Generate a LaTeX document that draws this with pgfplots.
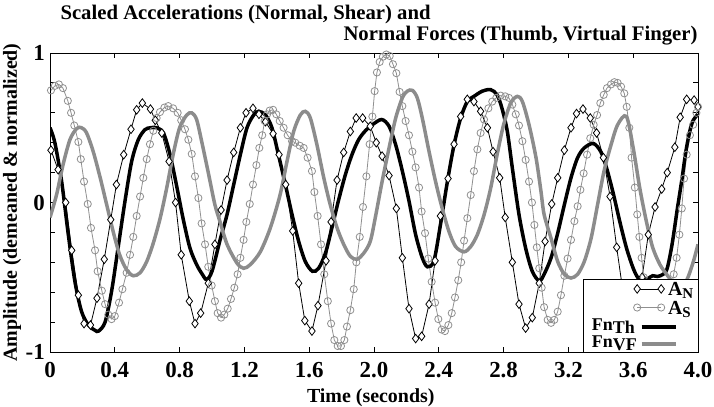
\documentclass[border=0pt]{standalone}
\usepackage{pgfplots}
\pgfplotsset{compat=1.18}
\usepackage{fontspec}
\setmainfont{Liberation Serif}
\definecolor{gA}{gray}{0.56}
\definecolor{gF}{gray}{0.55}
\pgfplotsset{
  geom/.style={at={(0,0)}, anchor=south west, scale only axis, width=648bp, height=299bp,
    xmin=0, xmax=4, ymin=-1, ymax=1},
  twomark legend/.style={legend image code/.code={\draw[##1] plot coordinates {(0bp,3bp) (24bp,3bp)};}},
  longline legend/.style={legend image code/.code={\draw[##1] (0bp,0bp) -- (34bp,0bp);}},
}
\begin{document}
\begin{tikzpicture}
\begin{axis}[geom,
  axis line style={line width=0.8bp, black},
  xtick={0,0.4,0.8,1.2,1.6,2.0,2.4,2.8,3.2,3.6,4.0},
  xticklabels={0,0.4,0.8,1.2,1.6,2.0,2.4,2.8,3.2,3.6,4.0},
  ytick={-1,-0.8,-0.6,-0.4,-0.2,0,0.2,0.4,0.6,0.8,1},
  yticklabels={-1,,,,,0,,,,,1},
  tick align=inside, major tick length=5bp,
  tick style={line width=0.8bp, black},
  tick label style={font=\bfseries\fontsize{23}{23}\selectfont},
  xticklabel style={inner sep=0pt, anchor=north, yshift=-10bp},
  yticklabel style={inner sep=0pt, anchor=east, xshift=-5bp},
  xlabel={Time (seconds)},
  ylabel={Amplitude (demeaned \& normalized)},
  label style={font=\bfseries\fontsize{20}{20}\selectfont},
  xlabel style={at={(axis description cs:0.495,-0.154)}, anchor=center},
  ylabel style={at={(axis description cs:-0.0586,0.5)}, anchor=center, rotate=0},
]
% A_N
\addplot[black, line width=0.8bp, mark=diamond*, mark size=4.3bp, mark options={fill=white, line width=0.8bp}] coordinates {
(0.006,0.35)(0.05,0.22)(0.097,0.00)(0.134,-0.32)(0.175,-0.62)(0.21,-0.81)(0.25,-0.82)(0.29,-0.64)
(0.335,-0.38)(0.375,-0.115)(0.41,0.12)(0.455,0.32)(0.50,0.49)(0.535,0.62)(0.57,0.665)(0.62,0.625)
(0.65,0.55)(0.69,0.465)(0.735,0.275)(0.775,0.00)(0.81,-0.35)(0.86,-0.66)(0.895,-0.81)(0.93,-0.74)
(0.977,-0.54)(1.018,-0.28)(1.056,-0.05)(1.093,0.15)(1.134,0.335)(1.175,0.50)(1.21,0.60)(1.253,0.63)
(1.29,0.59)(1.33,0.54)(1.377,0.46)(1.414,0.32)(1.455,0.12)(1.498,-0.19)(1.535,-0.54)(1.573,-0.79)
(1.617,-0.86)(1.654,-0.69)(1.704,-0.39)(1.735,-0.13)(1.772,0.15)(1.813,0.335)(1.854,0.475)(1.89,0.565)
(1.93,0.565)(1.977,0.51)(2.014,0.40)(2.05,0.31)(2.093,0.18)(2.138,-0.04)(2.175,-0.37)(2.216,-0.71)
(2.257,-0.91)(2.294,-0.895)(2.34,-0.68)(2.377,-0.39)(2.41,-0.09)(2.457,0.16)(2.494,0.39)(2.535,0.575)
(2.576,0.69)(2.617,0.675)(2.658,0.61)(2.70,0.50)(2.735,0.34)(2.776,0.165)(2.81,-0.10)(2.854,-0.40)
(2.895,-0.68)(2.936,-0.84)(2.977,-0.77)(3.02,-0.54)(3.056,-0.26)(3.097,-0.01)(3.134,0.165)(3.175,0.35)
(3.216,0.50)(3.25,0.595)(3.29,0.625)(3.335,0.565)(3.374,0.465)(3.416,0.30)(3.457,0.04)(3.498,-0.30)
(3.54,-0.62)(3.58,-0.80)(3.62,-0.75)(3.655,-0.50)(3.693,-0.215)(3.735,-0.03)(3.776,0.09)(3.81,0.20)
(3.857,0.37)(3.89,0.57)(3.93,0.69)(3.976,0.685)(4.0,0.64)
};
% A_S
\addplot[gA, line width=0.8bp, mark=o, mark size=3.6bp, mark options={line width=0.8bp}] coordinates {
(0.006,0.75)(0.03,0.78)(0.055,0.79)(0.08,0.765)(0.11,0.68)(0.13,0.60)(0.15,0.515)(0.175,0.405)
(0.19,0.29)(0.21,0.14)(0.233,-0.01)(0.253,-0.17)(0.278,-0.32)(0.294,-0.46)(0.32,-0.59)(0.34,-0.68)
(0.36,-0.75)(0.38,-0.78)(0.40,-0.76)(0.426,-0.67)(0.447,-0.58)(0.473,-0.47)(0.494,-0.35)(0.514,-0.23)
(0.535,-0.09)(0.556,0.04)(0.576,0.165)(0.597,0.29)(0.617,0.39)(0.638,0.48)(0.658,0.565)(0.679,0.605)
(0.706,0.635)(0.73,0.645)(0.76,0.63)(0.788,0.60)(0.81,0.55)(0.833,0.49)(0.854,0.42)(0.875,0.325)
(0.895,0.175)(0.916,0.03)(0.936,-0.14)(0.957,-0.28)(0.977,-0.43)(0.998,-0.555)(1.018,-0.66)(1.035,-0.74)
(1.056,-0.77)(1.076,-0.75)(1.097,-0.71)(1.117,-0.645)(1.138,-0.57)(1.158,-0.48)(1.175,-0.37)(1.195,-0.25)
(1.212,-0.13)(1.233,-0.01)(1.253,0.12)(1.274,0.25)(1.292,0.365)(1.31,0.45)(1.325,0.545)(1.34,0.59)
(1.356,0.615)(1.377,0.62)(1.397,0.59)(1.418,0.545)(1.442,0.50)(1.467,0.45)(1.494,0.41)(1.514,0.40)
(1.541,0.38)(1.566,0.365)(1.59,0.30)(1.617,0.21)(1.632,0.07)(1.652,-0.09)(1.673,-0.28)(1.693,-0.48)
(1.715,-0.66)(1.735,-0.81)(1.755,-0.92)(1.776,-0.96)(1.796,-0.96)(1.817,-0.92)(1.833,-0.83)(1.854,-0.72)
(1.875,-0.58)(1.891,-0.40)(1.912,-0.23)(1.932,-0.03)(1.953,0.175)(1.973,0.39)(1.99,0.575)(2.004,0.745)
(2.018,0.87)(2.035,0.94)(2.055,0.975)(2.076,0.99)(2.097,0.98)(2.117,0.925)(2.138,0.865)(2.158,0.74)
(2.175,0.645)(2.195,0.545)(2.216,0.45)(2.237,0.34)(2.257,0.235)(2.278,0.10)(2.294,-0.06)(2.315,-0.205)
(2.335,-0.375)(2.356,-0.53)(2.377,-0.67)(2.397,-0.78)(2.418,-0.85)(2.438,-0.86)(2.459,-0.82)(2.48,-0.74)
(2.50,-0.635)(2.52,-0.52)(2.538,-0.40)(2.556,-0.255)(2.576,-0.105)(2.597,0.05)(2.617,0.21)(2.638,0.355)
(2.658,0.465)(2.679,0.555)(2.706,0.63)(2.73,0.675)(2.755,0.70)(2.782,0.715)(2.81,0.71)(2.833,0.70)
(2.854,0.655)(2.875,0.59)(2.895,0.515)(2.916,0.41)(2.936,0.285)(2.957,0.14)(2.975,0.0)(2.99,-0.15)
(3.005,-0.30)(3.02,-0.44)(3.035,-0.57)(3.05,-0.70)(3.072,-0.785)(3.093,-0.805)(3.113,-0.785)(3.134,-0.73)
(3.154,-0.62)(3.175,-0.49)(3.195,-0.375)(3.216,-0.25)(3.237,-0.125)(3.257,-0.025)(3.274,0.085)(3.294,0.195)
(3.315,0.32)(3.335,0.43)(3.356,0.52)(3.377,0.585)(3.397,0.665)(3.418,0.72)(3.438,0.765)(3.463,0.79)
(3.484,0.805)(3.504,0.80)(3.525,0.775)(3.545,0.73)(3.56,0.64)(3.576,0.50)(3.59,0.30)(3.61,0.10)
(3.625,-0.08)(3.638,-0.23)(3.652,-0.37)(3.665,-0.50)(3.68,-0.62)(3.70,-0.74)(3.72,-0.82)(3.745,-0.85)
(3.77,-0.83)(3.80,-0.75)(3.825,-0.62)(3.85,-0.48)(3.868,-0.37)(3.885,-0.215)(3.90,-0.04)(3.914,0.16)
(3.93,0.32)(3.95,0.45)(3.97,0.52)(3.99,0.60)(4.0,0.64)
};
% Fn_Th
\addplot[black, line width=3.5bp, smooth, tension=0.5] coordinates {
(0.0,0.50)(0.03,0.40)(0.072,0.14)(0.113,-0.215)(0.154,-0.53)(0.195,-0.73)(0.237,-0.82)(0.278,-0.855)
(0.30,-0.86)(0.34,-0.80)(0.38,-0.595)(0.42,-0.305)(0.463,0.01)(0.504,0.275)(0.545,0.42)(0.586,0.487)
(0.62,0.50)(0.658,0.50)(0.70,0.465)(0.74,0.325)(0.78,0.12)(0.823,-0.115)(0.864,-0.305)(0.905,-0.415)
(0.94,-0.48)(0.967,-0.515)(1.0,-0.46)(1.05,-0.25)(1.093,-0.08)(1.134,0.12)(1.175,0.32)(1.216,0.50)
(1.257,0.585)(1.288,0.61)(1.33,0.585)(1.37,0.50)(1.41,0.32)(1.453,0.12)(1.494,-0.08)(1.535,-0.26)
(1.576,-0.395)(1.62,-0.46)(1.658,-0.44)(1.70,-0.34)(1.74,-0.17)(1.78,0.01)(1.823,0.185)(1.864,0.32)
(1.905,0.42)(1.947,0.48)(1.99,0.52)(2.047,0.555)(2.093,0.51)(2.134,0.385)(2.175,0.21)(2.216,0.01)
(2.257,-0.215)(2.298,-0.37)(2.33,-0.43)(2.37,-0.39)(2.41,-0.15)(2.453,0.14)(2.494,0.385)(2.535,0.565)
(2.576,0.675)(2.617,0.71)(2.669,0.745)(2.72,0.755)(2.76,0.72)(2.79,0.63)(2.823,0.475)(2.854,0.23)
(2.895,-0.08)(2.936,-0.305)(2.977,-0.46)(3.02,-0.525)(3.05,-0.48)(3.093,-0.37)(3.134,-0.205)(3.175,-0.015)
(3.216,0.165)(3.257,0.30)(3.298,0.365)(3.354,0.395)(3.40,0.34)(3.436,0.23)(3.477,0.06)(3.52,-0.14)
(3.56,-0.31)(3.60,-0.44)(3.63,-0.505)(3.66,-0.53)(3.69,-0.51)(3.72,-0.49)(3.75,-0.495)(3.785,-0.48)
(3.81,-0.44)(3.84,-0.28)(3.87,-0.06)(3.90,0.15)(3.928,0.36)(3.962,0.53)(4.0,0.59)
};
% Fn_VF
\addplot[gF, line width=3.5bp, smooth, tension=0.5] coordinates {
(0.0,-0.10)(0.04,0.05)(0.08,0.25)(0.123,0.42)(0.165,0.495)(0.195,0.50)(0.226,0.465)(0.267,0.34)
(0.31,0.165)(0.35,-0.015)(0.39,-0.195)(0.43,-0.35)(0.473,-0.45)(0.514,-0.49)(0.556,-0.47)(0.597,-0.395)
(0.638,-0.27)(0.68,-0.105)(0.72,0.095)(0.76,0.32)(0.80,0.50)(0.844,0.585)(0.875,0.60)(0.905,0.555)
(0.936,0.41)(0.977,0.20)(1.018,-0.015)(1.05,-0.13)(1.093,-0.28)(1.154,-0.405)(1.195,-0.44)(1.237,-0.415)
(1.298,-0.33)(1.36,-0.17)(1.42,0.05)(1.463,0.275)(1.504,0.475)(1.545,0.585)(1.576,0.61)(1.607,0.565)
(1.648,0.385)(1.69,0.165)(1.73,-0.015)(1.772,-0.17)(1.813,-0.28)(1.854,-0.36)(1.895,-0.38)(1.936,-0.34)
(1.977,-0.26)(2.01,-0.09)(2.05,0.14)(2.093,0.365)(2.134,0.565)(2.175,0.70)(2.206,0.745)(2.237,0.75)
(2.267,0.70)(2.298,0.565)(2.34,0.34)(2.38,0.14)(2.42,-0.035)(2.463,-0.195)(2.504,-0.295)(2.556,-0.33)
(2.597,-0.295)(2.638,-0.215)(2.68,-0.08)(2.72,0.095)(2.76,0.32)(2.80,0.52)(2.844,0.665)(2.885,0.71)
(2.916,0.675)(2.957,0.52)(3.0,0.30)(3.03,0.08)(3.05,-0.08)(3.093,-0.24)(3.134,-0.395)(3.175,-0.48)
(3.216,-0.505)(3.257,-0.48)(3.298,-0.395)(3.34,-0.24)(3.38,-0.015)(3.42,0.21)(3.463,0.385)(3.504,0.52)
(3.558,0.576)(3.60,0.365)(3.64,0.10)(3.68,-0.12)(3.72,-0.30)(3.765,-0.415)(3.806,-0.48)(3.85,-0.54)
(3.89,-0.56)(3.93,-0.52)(3.97,-0.40)(4.0,-0.28)
};
\end{axis}
% legend, part 1: frame and accelerations
\begin{axis}[geom, hide axis,
  legend cell align=left, legend plot pos=left,
  legend style={at={(rel axis cs:0.993,0.226)}, anchor=north east, draw=none, fill=none,
    inner sep=0pt, row sep=6bp, column sep=0pt, font=\bfseries\fontsize{20}{20}\selectfont,
    nodes={inner sep=0pt, text height=10bp, text depth=2bp}},
]
\draw[line width=0.8bp, fill=white] (rel axis cs:0.8225,0) rectangle (rel axis cs:1,0.244);
\addlegendimage{twomark legend, black, line width=0.8bp, mark=diamond*, mark size=4.3bp, mark options={fill=white}}
\addlegendentry{\,A\raisebox{-3bp}{\fontsize{15}{15}\selectfont N}}
\addlegendimage{twomark legend, gA, line width=0.8bp, mark=o, mark size=3.6bp}
\addlegendentry{\,A\raisebox{-3bp}{\fontsize{15}{15}\selectfont S}}
\end{axis}
% legend, part 2: forces
\begin{axis}[geom, hide axis,
  legend cell align=left, legend plot pos=right,
  legend style={at={(rel axis cs:0.836,0.008)}, anchor=south west, draw=none, fill=none,
    inner sep=0pt, row sep=6bp, font=\bfseries\fontsize{18}{18}\selectfont,
    nodes={inner sep=0pt, text height=9bp, text depth=2bp}},
]
\addlegendimage{longline legend, black, line width=3.5bp}
\addlegendentry{Fn\raisebox{-3bp}{Th}\,}
\addlegendimage{longline legend, gF, line width=3.5bp}
\addlegendentry{Fn\raisebox{-3bp}{VF}\,}
\end{axis}
\node[anchor=base west, font=\bfseries\fontsize{20.8}{20.8}\selectfont] at (7bp,332bp) {Scaled Accelerations (Normal, Shear) and};
\node[anchor=base east, font=\bfseries\fontsize{20.8}{20.8}\selectfont] at (651bp,311bp) {Normal Forces (Thumb, Virtual Finger)};
\pgfresetboundingbox
\path[use as bounding box] (-50bp,-55bp) rectangle (664bp,352bp);
\end{tikzpicture}
\end{document}
